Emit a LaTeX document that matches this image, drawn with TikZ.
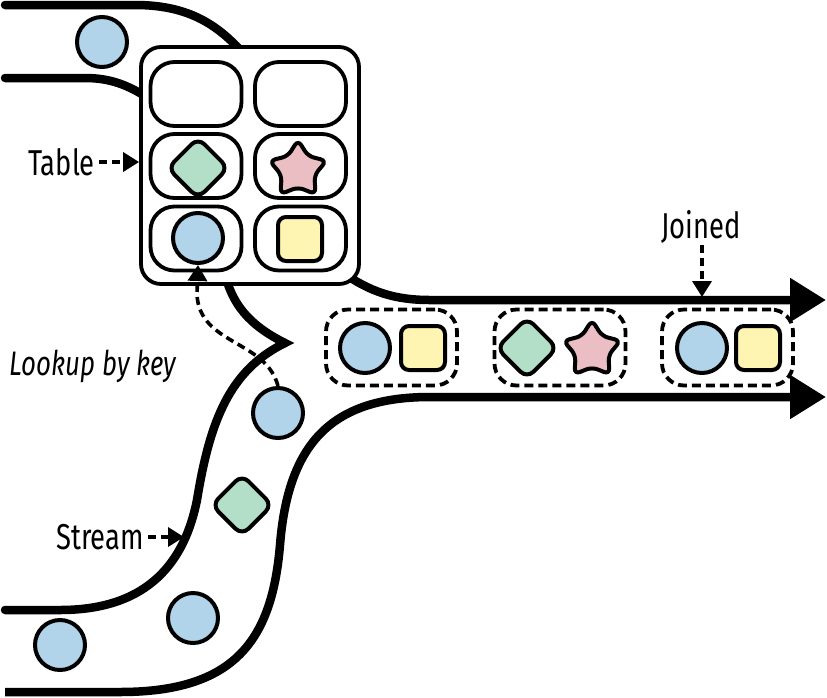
\documentclass[tikz,border=0pt]{standalone}
\usepackage{fontspec}
\setmainfont[FakeStretch=0.76]{Fira Sans}
\usetikzlibrary{arrows.meta,shapes.geometric}
\definecolor{cblue}{RGB}{178,212,234}
\definecolor{cgreen}{RGB}{179,223,201}
\definecolor{cpink}{RGB}{235,190,196}
\definecolor{cyellow}{RGB}{255,245,178}
\begin{document}
\begin{tikzpicture}[x=1pt,y=-1pt,
 rail/.style={line width=8.5pt, line cap=round},
 railarrow/.style={line width=8.5pt, -{Triangle[length=36pt,width=42pt]}},
 cell/.style={draw, line width=3.8pt, rounded corners=24pt, minimum width=91pt, minimum height=64pt, inner sep=0pt},
 tbl/.style={draw, fill=white, line width=3.8pt, rounded corners=20pt, minimum width=218pt, minimum height=237pt, inner sep=0pt},
 dot/.style={circle, draw, line width=4pt, fill=cblue, minimum size=50pt, inner sep=0pt},
 sq/.style={rectangle, draw, line width=4pt, fill=cyellow, rounded corners=8pt, minimum size=44pt, inner sep=0pt},
 dia/.style={diamond, draw, line width=4pt, fill=cgreen, rounded corners=9pt, minimum size=62pt, inner sep=0pt},
 st/.style={star, star points=5, star point ratio=1.75, draw, line width=4pt, fill=cpink, rounded corners=6pt, minimum size=60pt, inner sep=0pt},
 grp/.style={draw, dash pattern=on 9pt off 5pt, line width=3.8pt, rounded corners=22pt, minimum width=131pt, minimum height=76pt, inner sep=0pt},
 lab/.style={font=\fontsize{36}{38}\selectfont, inner sep=0pt},
 dasharrow/.style={line width=3.6pt, dash pattern=on 8pt off 5pt, -{Triangle[length=16pt,width=19pt]}}
]
\useasboundingbox (0,0) rectangle (827,697);
% coordinates
\coordinate (e1) at (826,300);
\coordinate (e2) at (826,397);
% top stream
\draw[rail] (5,5) -- (135,5) .. controls (185,5) and (215,22) .. (242,52);
\draw[rail] (5,78) -- (85,78) .. controls (110,78) and (128,85) .. (148,98);
% bottom stream
\draw[rail, line join=miter] (5,610) -- (60,610) .. controls (150,610) and (185,560) .. (197,500)
   .. controls (210,420) and (230,370) .. (285,343) .. controls (255,328) and (235,310) .. (226,278);
\draw[railarrow] (5,692) -- (120,692) .. controls (235,692) and (272,640) .. (280,545)
   .. controls (288,445) and (330,397) .. (430,397) -- (e2);
\draw[railarrow] (342,272) .. controls (370,292) and (395,300) .. (430,300) -- (e1);
% table
\node[tbl] (tbl) at (250,165.5) {};
\node[cell] (c11) at (196,94) {};
\node[cell] (c12) at (300.5,94) {};
\node[cell] (c21) at (196,166) {};
\node[cell] (c22) at (300.5,166) {};
\node[cell] (c31) at (196,238.5) {};
\node[cell] (c32) at (300.5,238.5) {};
\node[dia] (td) at (198,168) {};
\node[st] (ts) at (298,170) {};
\node[dot] (tc) at (198,238) {};
\node[sq] (tq) at (300,239) {};
% stream items
\node[dot] (top1) at (102,42) {};
\node[dot] (s1) at (278,413) {};
\node[dia] (s2) at (242,505) {};
\node[dot] (s3) at (193,618) {};
\node[dot] (s4) at (60,645) {};
% joined groups
\node[grp] (g1) at (391.5,347.5) {};
\node[grp] (g2) at (560,347.5) {};
\node[grp] (g3) at (727.5,347.5) {};
\node[dot] (g1a) at (365,348) {};
\node[sq] (g1b) at (423,348) {};
\node[dia] (g2a) at (527,348) {};
\node[st] (g2b) at (592,350) {};
\node[dot] (g3a) at (702,348) {};
\node[sq] (g3b) at (758,348) {};
% labels
\node[lab, anchor=east] (tlab) at (95,162) {Table};
\draw[dasharrow] ([xshift=4pt]tlab.east) -- (tlab.east -| tbl.west);
\node[lab, anchor=east] (slab) at (144,537) {Stream};
\coordinate (sarr) at (184,537);
\draw[dasharrow] ([xshift=4pt]slab.east) -- (sarr);
\node[lab, font=\fontsize{34}{36}\selectfont\itshape] (llab) at (93,366) {Lookup by key};
\node[lab] (jlab) at (701,227) {Joined};
\coordinate (jarr) at (702,297);
\draw[dasharrow] (702,245) -- (jarr);
\draw[dasharrow] (s1.north) .. controls (266,340) and (200,345) .. (197,295) -- (tc.south);
\end{tikzpicture}
\end{document}
